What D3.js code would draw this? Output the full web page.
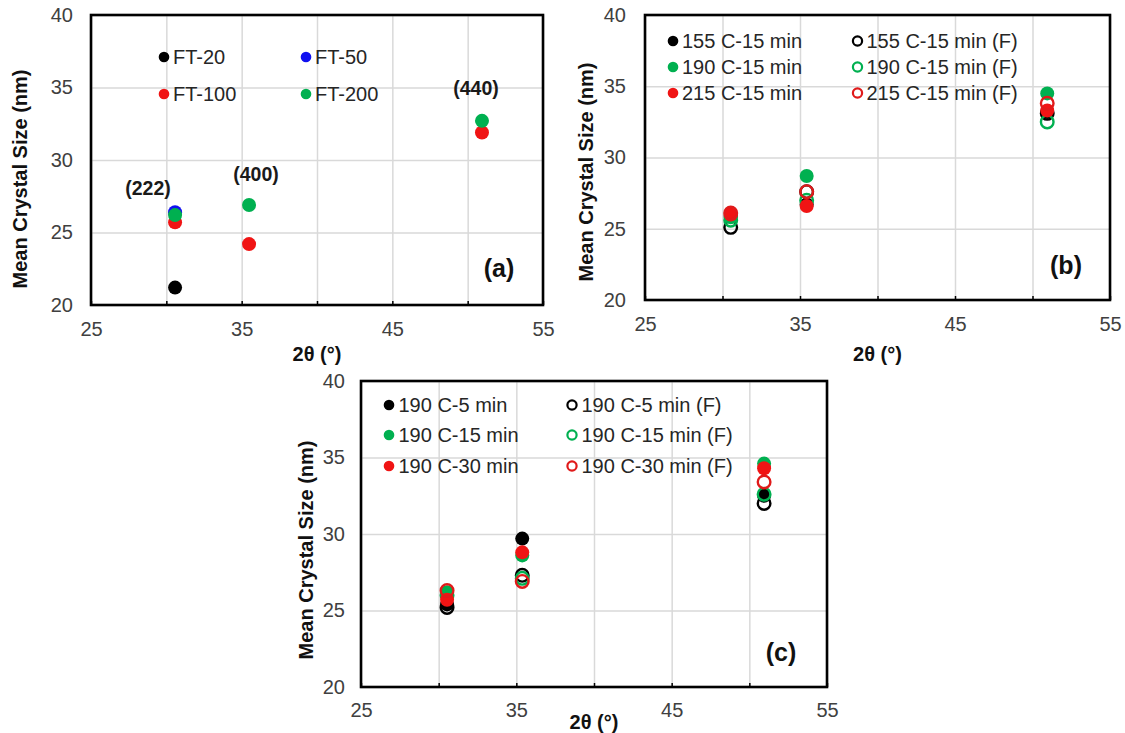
<!DOCTYPE html>
<html>
<head>
<meta charset="utf-8">
<script src="https://cdn.jsdelivr.net/npm/d3@7"></script>
<style>
  html, body { margin: 0; padding: 0; background: #ffffff; }
  svg { display: block; font-family: "Liberation Sans", Arial, sans-serif; }
</style>
</head>
<body>
<svg id="chart" width="1125" height="733"></svg>
<script>
// ---------- DATA ----------
const xTickLabels = [25, 35, 45, 55];
const xGridValues = [25, 30, 35, 40, 45, 50, 55];
const yTickLabels = [20, 25, 30, 35, 40];

// Panel (a)
const peaksA = [30.58, 35.49, 50.95];
const ft20  = [21.2, null, null];
const ft50  = [26.4, null, null];
const ft100 = [25.7, 24.2, 31.9];
const ft200 = [26.2, 26.9, 32.7];
const namesA = ["FT-20", "FT-50", "FT-100", "FT-200"];
const hklLabels = ["(222)", "(400)", "(440)"];

// Panel (b)
const peaksB = [30.53, 35.43, 50.95];
const t155   = [25.9, 26.7, 33.2];
const t155F  = [25.1, 27.6, 33.1];
const t190   = [25.8, 28.7, 34.5];
const t190F  = [25.6, 27.0, 32.5];
const t215   = [26.0, 26.6, 33.3];
const t215F  = [26.1, 27.6, 33.8];
const namesB = ["155 C-15 min", "155 C-15 min (F)", "190 C-15 min", "190 C-15 min (F)", "215 C-15 min", "215 C-15 min (F)"];

// Panel (c)
const peaksC = [30.54, 35.38, 50.95];
const m5   = [25.4, 29.7, 32.5];
const m5F  = [25.2, 27.3, 32.0];
const m15  = [26.2, 28.6, 34.6];
const m15F = [26.0, 27.1, 32.6];
const m30  = [25.7, 28.8, 34.3];
const m30F = [26.3, 26.9, 33.4];
const namesC = ["190 C-5 min", "190 C-5 min (F)", "190 C-15 min", "190 C-15 min (F)", "190 C-30 min", "190 C-30 min (F)"];

const xTitle = "2θ (°)";
const yTitle = "Mean Crystal Size (nm)";

// ---------- STYLE ----------
const BLACK = "#000000", BLUE = "#1010f0", RED = "#f01414", GREEN = "#00b050";
const REDRING = "#e01a1a";
const svg = d3.select("#chart");

function panel(cfg) {
  const g = svg.append("g");
  const x = d3.scaleLinear().domain([25, 55]).range([cfg.left, cfg.right]);
  const y = d3.scaleLinear().domain([20, 40]).range([cfg.bottom, cfg.top]);
  const w = cfg.right - cfg.left, h = cfg.bottom - cfg.top;

  // grid
  const gx = g.append("g").attr("transform", `translate(0,${cfg.bottom})`)
    .call(d3.axisBottom(x).tickValues(xGridValues).tickSize(-h).tickFormat(""));
  gx.select(".domain").remove();
  gx.selectAll("line").attr("stroke", "#d9d9d9").attr("stroke-width", 1.5);
  const gy = g.append("g").attr("transform", `translate(${cfg.left},0)`)
    .call(d3.axisLeft(y).tickValues(yTickLabels).tickSize(-w).tickFormat(""));
  gy.select(".domain").remove();
  gy.selectAll("line").attr("stroke", "#d9d9d9").attr("stroke-width", 1.5);

  // inner ticks on bottom
  const tk = g.append("g").attr("transform", `translate(0,${cfg.bottom})`)
    .call(d3.axisBottom(x).tickValues(xGridValues).tickSize(-4).tickFormat(""));
  tk.select(".domain").remove();
  tk.selectAll("line").attr("stroke", "#000").attr("stroke-width", 1.5);

  // labels
  const lx = g.append("g").attr("transform", `translate(0,${cfg.bottom})`)
    .call(d3.axisBottom(x).tickValues(xTickLabels).tickSize(0).tickPadding(cfg.xPad));
  lx.select(".domain").remove();
  lx.selectAll("text").attr("font-size", 20).attr("fill", "#404040")
    .attr("font-family", "Liberation Sans, Arial, sans-serif");
  const ly = g.append("g").attr("transform", `translate(${cfg.left},0)`)
    .call(d3.axisLeft(y).tickValues(yTickLabels).tickSize(0).tickPadding(cfg.yPad));
  ly.select(".domain").remove();
  ly.selectAll("text").attr("font-size", 20).attr("fill", "#404040")
    .attr("font-family", "Liberation Sans, Arial, sans-serif");

  // frame
  g.append("rect").attr("x", cfg.left).attr("y", cfg.top).attr("width", w).attr("height", h)
    .attr("fill", "none").attr("stroke", "#000").attr("stroke-width", 2.6);

  // titles
  g.append("text").attr("x", (cfg.left + cfg.right) / 2).attr("y", cfg.xTitleY)
    .attr("text-anchor", "middle").attr("dy", "0.35em")
    .attr("font-size", 20).attr("font-weight", "bold").attr("fill", "#111").text(xTitle);
  g.append("text").attr("transform", `translate(${cfg.yTitleX},${cfg.yTitleY}) rotate(-90)`)
    .attr("text-anchor", "middle").attr("dy", "0.35em")
    .attr("font-size", 20).attr("font-weight", "bold").attr("fill", "#111").text(yTitle);

  // data
  cfg.series.forEach(s => {
    const pts = cfg.peaks.map((p, i) => ({ x: p, v: s.values[i] })).filter(d => d.v != null);
    g.selectAll(null).data(pts).enter().append("circle")
      .attr("cx", d => x(d.x)).attr("cy", d => y(d.v))
      .attr("r", s.open ? 6.3 : 7)
      .attr("fill", s.open ? "none" : s.color)
      .attr("stroke", s.open ? s.color : "none")
      .attr("stroke-width", s.open ? 2.4 : 0);
  });

  // legend
  cfg.series.forEach((s, i) => {
    const col = i % 2, row = Math.floor(i / 2);
    const mx = cfg.legMX[col], my = cfg.legY[row];
    g.append("circle").attr("cx", mx).attr("cy", my)
      .attr("r", s.open ? 4.6 : 5.3)
      .attr("fill", s.open ? "none" : s.color)
      .attr("stroke", s.open ? s.color : "none")
      .attr("stroke-width", s.open ? 2.2 : 0);
    g.append("text").attr("x", mx + cfg.legGap).attr("y", my).attr("dy", "0.36em")
      .attr("font-size", 20).attr("fill", "#262626").text(s.name);
  });

  // panel letter
  g.append("text").attr("x", cfg.letter[0]).attr("y", cfg.letter[1]).attr("dy", "0.35em")
    .attr("text-anchor", "middle").attr("font-size", 25).attr("font-weight", "bold")
    .attr("fill", "#111").text(cfg.letter[2]);

  return { g, x, y };
}

// Panel (a)
const pa = panel({
  left: 91, right: 543, top: 15, bottom: 305, xPad: 17, yPad: 18,
  xTitleY: 354, yTitleX: 20, yTitleY: 179,
  peaks: peaksA,
  series: [
    { name: namesA[0], values: ft20, color: BLACK },
    { name: namesA[1], values: ft50, color: BLUE },
    { name: namesA[2], values: ft100, color: RED },
    { name: namesA[3], values: ft200, color: GREEN }
  ],
  legMX: [164, 306], legY: [57, 94], legGap: 9,
  letter: [499, 268, "(a)"]
});
// hkl annotations
const hklPos = [[148, 188], [256, 174], [476, 88]];
hklLabels.forEach((t, i) => {
  pa.g.append("text").attr("x", hklPos[i][0]).attr("y", hklPos[i][1]).attr("dy", "0.35em")
    .attr("text-anchor", "middle").attr("font-size", 19.5).attr("font-weight", "bold")
    .attr("fill", "#1a1a1a").text(t);
});

// Panel (b)
panel({
  left: 645, right: 1110, top: 15, bottom: 300, xPad: 17, yPad: 19,
  xTitleY: 354, yTitleX: 586, yTitleY: 172,
  peaks: peaksB,
  series: [
    { name: namesB[0], values: t155, color: BLACK },
    { name: namesB[1], values: t155F, color: BLACK, open: true },
    { name: namesB[2], values: t190, color: GREEN },
    { name: namesB[3], values: t190F, color: GREEN, open: true },
    { name: namesB[4], values: t215, color: RED },
    { name: namesB[5], values: t215F, color: REDRING, open: true }
  ],
  legMX: [673, 857.5], legY: [41, 67, 93], legGap: 9,
  letter: [1066, 265, "(b)"]
});

// Panel (c)
panel({
  left: 361, right: 827, top: 381, bottom: 687, xPad: 16, yPad: 16,
  xTitleY: 722, yTitleX: 306, yTitleY: 550,
  peaks: peaksC,
  series: [
    { name: namesC[0], values: m5, color: BLACK },
    { name: namesC[1], values: m5F, color: BLACK, open: true },
    { name: namesC[2], values: m15, color: GREEN },
    { name: namesC[3], values: m15F, color: GREEN, open: true },
    { name: namesC[4], values: m30, color: RED },
    { name: namesC[5], values: m30F, color: REDRING, open: true }
  ],
  legMX: [389, 572], legY: [405, 435, 466], legGap: 9.5,
  letter: [781, 652, "(c)"]
});
</script>
</body>
</html>
